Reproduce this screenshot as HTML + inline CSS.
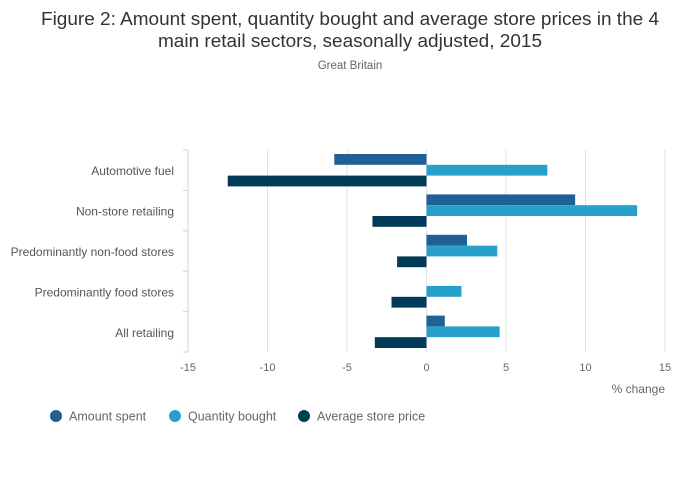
<!DOCTYPE html>
<html><head><meta charset="utf-8"><style>
html,body{margin:0;padding:0;background:#fff;}
svg{display:block;font-family:"Liberation Sans",sans-serif;}
</style></head><body>
<svg id="chart" width="700" height="502" viewBox="0 0 700 502" xmlns="http://www.w3.org/2000/svg">
<text x="350" y="25" text-anchor="middle" font-size="18" fill="#333" textLength="618" lengthAdjust="spacingAndGlyphs">Figure 2: Amount spent, quantity bought and average store prices in the 4</text>
<text x="350" y="47" text-anchor="middle" font-size="18" fill="#333" textLength="384" lengthAdjust="spacingAndGlyphs">main retail sectors, seasonally adjusted, 2015</text>
<text x="350" y="69" text-anchor="middle" font-size="11.5" fill="#666">Great Britain</text>
<g id="grid"></g><g id="bars"></g><g id="axes"></g>
<text x="665" y="393" text-anchor="end" font-size="12" fill="#666">% change</text>
<g id="legend"></g>
</svg>
<script>
const categories = ["Automotive fuel","Non-store retailing","Predominantly non-food stores","Predominantly food stores","All retailing"];
const amountSpent = [-5.8, 9.35, 2.55, 0, 1.15];
const quantityBought = [7.6, 13.25, 4.45, 2.2, 4.6];
const averagePrice = [-12.5, -3.4, -1.85, -2.2, -3.25];
const xTicks = [-15,-10,-5,0,5,10,15];
const seriesNames = ["Amount spent","Quantity bought","Average store price"];
const colors = ["#206095","#27a0cc","#003c57"];

const NS="http://www.w3.org/2000/svg";
const x0=188,x1=665,yTop=150,yBot=352,xmin=-15,xmax=15;
const x = v => x0+(v-xmin)/(xmax-xmin)*(x1-x0);
const band=(yBot-yTop)/categories.length;
const y = i => yTop+i*band;
function mk(tag,attrs,parent){const e=document.createElementNS(NS,tag);for(const k in attrs)e.setAttribute(k,attrs[k]);parent.appendChild(e);return e;}
const grid=document.getElementById('grid'),bars=document.getElementById('bars'),axes=document.getElementById('axes'),legend=document.getElementById('legend');
xTicks.forEach(t=>{
  const l=mk('line',{x1:x(t),x2:x(t),y1:yTop,y2:yBot,stroke:'#e0e0e0','stroke-width':1},grid);
  
  
  const tx=mk('text',{x:x(t),y:yBot+19,'text-anchor':'middle','font-size':11,fill:'#666'},axes);
  tx.textContent=String(t);
  
  
});
const al=mk('line',{x1:x0,x2:x0,y1:yTop,y2:yBot,stroke:'#c8d4e6','stroke-width':1},axes);


for(let i=0;i<=categories.length;i++){
  const tk=mk('line',{x1:x0-5,x2:x0,y1:y(i),y2:y(i),stroke:'#c8d4e6','stroke-width':1},axes);
  
  
}
const series=[amountSpent,quantityBought,averagePrice];
const bh=10.8;
categories.forEach((c,i)=>{
  const lab=mk('text',{x:174,y:y(i)+band/2+5,'text-anchor':'end','font-size':12,fill:'#555'},axes);
  lab.textContent=c;
  
  
  series.forEach((s,k)=>{
    const v=s[i];
    const r=mk('rect',{x:Math.min(x(0),x(v)),y:y(i)+4+k*bh,width:Math.abs(x(v)-x(0)),height:bh,fill:colors[k]},bars);
    
    
  });
});
const lx=[56,175,304];
seriesNames.forEach((n,k)=>{
  const c=mk('circle',{cx:lx[k],cy:416,r:6,fill:colors[k]},legend);
  
  
  const t=mk('text',{x:lx[k]+13,y:420.5,'font-size':12.5,fill:'#666'},legend);
  t.textContent=n;
  
  
});
</script>
</body></html>
